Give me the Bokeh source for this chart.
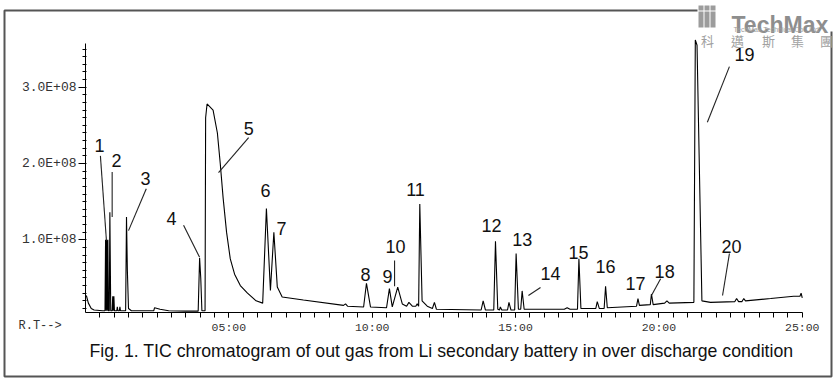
from bokeh.plotting import figure
from bokeh.models import Range1d, FixedTicker, Label, ColumnDataSource
from bokeh.embed import file_html
from bokeh.resources import INLINE
from bokeh.core.properties import value
import numpy as np

# ---- chromatogram trace (retention time in min, intensity in 1e8 counts)
rt_min = [
    0.03, 0.10, 0.20, 0.30, 0.60,
    0.68, 0.70, 0.72, 0.74, 0.76, 0.78, 0.80,
    0.83, 0.85, 0.88,
    0.93, 0.95, 0.97, 0.99, 1.01,
    1.09, 1.11, 1.13, 1.18, 1.20, 1.22,
    1.40, 1.43, 1.46, 1.50, 1.60,
    2.38, 2.41, 2.60, 2.90, 3.50,
    3.93, 3.98, 4.02, 4.06, 4.17,
    4.19, 4.24, 4.45, 4.60, 4.70, 4.80, 4.92, 5.05, 5.20, 5.40, 5.65, 5.95, 6.18,
    6.31, 6.45, 6.57, 6.69, 6.86, 7.60, 9.00,
    9.07, 9.14, 9.70, 9.80, 9.94,
    10.50, 10.60, 10.70, 10.89, 11.05, 11.20, 11.28, 11.40, 11.52, 11.57, 11.62,
    11.66, 11.74, 11.92, 12.10, 12.17, 12.24,
    13.80, 13.87, 13.95, 14.24, 14.30, 14.38, 14.44, 14.47, 14.52, 14.72, 14.77, 14.84,
    14.97, 15.02, 15.10, 15.18, 15.23, 15.30,
    16.70, 16.80, 16.90, 17.16, 17.21, 17.28,
    17.80, 17.85, 17.92, 18.09, 18.14, 18.20,
    19.22, 19.27, 19.32, 19.70, 19.74, 19.80,
    20.20, 20.28, 20.36, 21.22, 21.27, 21.33, 21.50,
    21.80, 22.65, 22.71, 22.78, 22.90, 22.96, 23.02, 23.90, 24.70, 24.92, 24.96, 25.00,
]
intensity_e8 = [
    0.27, 0.17, 0.10, 0.08, 0.07,
    0.07, 1.00, 0.07, 1.00, 0.07, 1.00, 0.07,
    0.07, 1.36, 0.07,
    0.07, 0.26, 0.07, 0.26, 0.07,
    0.07, 0.12, 0.07, 0.07, 0.12, 0.07,
    0.07, 1.30, 0.60, 0.10, 0.07,
    0.07, 0.11, 0.09, 0.07, 0.065,
    0.065, 0.76, 0.50, 0.07, 0.07,
    2.60, 2.78, 2.70, 2.40, 2.00, 1.55, 1.10, 0.75, 0.55, 0.40, 0.30, 0.20, 0.17,
    1.41, 0.335, 1.10, 0.38, 0.25, 0.21, 0.14,
    0.16, 0.13, 0.12, 0.43, 0.12,
    0.11, 0.36, 0.12, 0.38, 0.16, 0.13, 0.18, 0.13, 0.13, 0.16, 0.13,
    1.47, 0.20, 0.13, 0.10, 0.18, 0.09,
    0.08, 0.20, 0.08, 0.08, 0.98, 0.09, 0.08, 0.12, 0.08, 0.08, 0.18, 0.08,
    0.08, 0.82, 0.09, 0.09, 0.33, 0.09,
    0.09, 0.11, 0.09, 0.09, 0.75, 0.10,
    0.10, 0.19, 0.10, 0.10, 0.39, 0.11,
    0.13, 0.23, 0.14, 0.15, 0.29, 0.15,
    0.17, 0.20, 0.17, 0.18, 3.62, 3.55, 0.20,
    0.18, 0.19, 0.23, 0.19, 0.19, 0.23, 0.20, 0.23, 0.26, 0.26, 0.30, 0.24,
]

# ---- peak numbers and where they are written
peak_labels = [str(i) for i in range(1, 21)]
label_rt = [0.49, 1.08, 2.09, 3.00, 5.69, 6.28, 6.84, 9.77, 10.53, 10.81,
            11.51, 14.16, 15.23, 16.22, 17.20, 18.14, 19.18, 20.20, 22.99, 22.53]
label_int = [2.24, 2.04, 1.80, 1.28, 2.46, 1.65, 1.15, 0.545, 0.52, 0.91,
             1.66, 1.19, 1.00, 0.56, 0.83, 0.65, 0.43, 0.58, 3.43, 0.91]

# ---- leader lines (label -> peak)
lead_rt0 = [0.52, 0.93, 2.12, 3.42, 5.69, 10.78, 15.87, 20.06, 22.46, 22.46]
lead_int0 = [2.10, 1.89, 1.67, 1.19, 2.34, 0.73, 0.375, 0.49, 3.27, 0.82]
lead_rt1 = [0.73, 0.93, 1.50, 3.98, 4.64, 10.78, 15.45, 19.74, 21.69, 22.22]
lead_int1 = [0.99, 1.30, 1.12, 0.77, 1.88, 0.39, 0.27, 0.27, 2.54, 0.27]

# ---- axis ticks
x_tick_values = [5, 10, 15, 20, 25]
x_tick_labels = ["05:00", "10:00", "15:00", "20:00", "25:00"]
y_tick_values = [1, 2, 3]
y_tick_labels = ["1.0E+08", "2.0E+08", "3.0E+08"]
x_axis_bounds = (0, 25)
y_axis_bounds = (0.047, 3.571)

caption = "Fig. 1. TIC chromatogram of out gas from Li secondary battery in over discharge condition"

# ---- layout: the frame fills the whole canvas; pixel <-> data mapping
W, H = 834, 382
PX_PER_MIN, X0_PX = 28.67, 85.0
PX_PER_E8, Y0_PX = 76.3, 315.6


def dx(px):
    return (px - X0_PX) / PX_PER_MIN


def dy(py):
    return (Y0_PX - py) / PX_PER_E8


p = figure(width=W, height=H, output_backend="svg", toolbar_location=None,
           x_range=Range1d(dx(0), dx(W)), y_range=Range1d(dy(H), dy(0)),
           min_border_left=0, min_border_right=0, min_border_top=0, min_border_bottom=0)
p.xgrid.visible = False
p.ygrid.visible = False
p.outline_line_color = None
p.background_fill_color = "white"
p.border_fill_color = "white"

# outer box of the figure
p.quad(left=dx(4), right=dx(831), bottom=dy(376), top=dy(10),
       fill_color=None, line_color="#555555", line_width=2)
# white patch behind the watermark logo
p.quad(left=dx(697), right=dx(834), bottom=dy(31), top=dy(0),
       fill_color="white", line_color=None)
# logo icon (grey blocks)
icon_l = [698, 704, 710, 698, 704, 710]
icon_r = [703, 709, 715, 703, 709, 715]
icon_t = [5, 5, 5, 11, 11, 11]
icon_b = [10, 10, 10, 27, 27, 27]
p.quad(left=[dx(v) for v in icon_l], right=[dx(v) for v in icon_r],
       top=[dy(v) for v in icon_t], bottom=[dy(v) for v in icon_b],
       fill_color="#9c9c9c", line_color=None)

p.line(rt_min, intensity_e8, line_color="black", line_width=1.1)

src_lab = ColumnDataSource(dict(x=label_rt, y=label_int, t=peak_labels))
p.text(x="x", y="y", text="t", source=src_lab, text_font=value("Liberation Sans"),
       text_font_size="18px", text_align="center", text_baseline="middle", text_color="#111111")
p.segment(x0=lead_rt0, y0=lead_int0, x1=lead_rt1, y1=lead_int1, line_color="#222222", line_width=1.1)

# x axis
xa = p.xaxis[0]
xa.fixed_location = y_axis_bounds[0]
xa.bounds = x_axis_bounds
xa.ticker = FixedTicker(ticks=x_tick_values, minor_ticks=list(np.arange(0.5, 25.0, 0.5)))
xa.major_label_overrides = dict(zip(x_tick_values, x_tick_labels))
xa.major_label_text_font = "Liberation Mono"
xa.major_label_text_font_size = "11.5px"
xa.major_label_text_color = "#333333"
xa.major_tick_out = 5
xa.major_tick_in = 0
xa.minor_tick_out = 5
xa.minor_tick_in = 0
xa.major_label_standoff = 3
xa.axis_line_color = "black"

ya = p.yaxis[0]
ya.fixed_location = x_axis_bounds[0]
ya.bounds = y_axis_bounds
ya.ticker = FixedTicker(ticks=y_tick_values, minor_ticks=list(np.arange(0.1, 3.56, 0.1)))
ya.major_label_overrides = dict(zip(y_tick_values, y_tick_labels))
ya.major_label_text_font = "Liberation Mono"
ya.major_label_text_font_size = "13px"
ya.major_label_text_color = "#333333"
ya.major_tick_out = 7
ya.major_tick_in = 0
ya.minor_tick_out = 3
ya.minor_tick_in = 1
ya.major_label_standoff = 2
ya.axis_line_color = "black"

# texts around the axes
p.add_layout(Label(x=dx(18), y=dy(325), text="R.T-->", text_font="Liberation Mono",
                   text_font_size="12px", text_color="#333333", text_baseline="middle"))
p.add_layout(Label(x=dx(441), y=dy(350), text=caption, text_font="Liberation Sans",
                   text_font_size="17.7px", text_align="center", text_baseline="middle",
                   text_color="#111111"))

# watermark
p.add_layout(Label(x=dx(731), y=dy(24), text="TechMax", text_font="Liberation Sans",
                   text_font_style="bold", text_font_size="23px", text_color="#8e8e8e",
                   text_baseline="alphabetic"))
p.add_layout(Label(x=dx(733), y=dy(28.5), text="TechMax Technical Co., Ltd", text_font="Liberation Sans",
                   text_font_size="7px", text_color="#a0a0a0", text_baseline="middle"))
wm_chars = ["科", "邁", "斯", "集", "團"]
wm_px = [707, 737, 768, 797, 826]
for ch, xx in zip(wm_chars, wm_px):
    p.add_layout(Label(x=dx(xx), y=dy(40), text=ch, text_font="Noto Sans CJK TC", text_font_size="13px",
                       text_color="#a0a0a0", text_align="center", text_baseline="middle"))

open("out.html", "w").write(file_html(p, INLINE))
